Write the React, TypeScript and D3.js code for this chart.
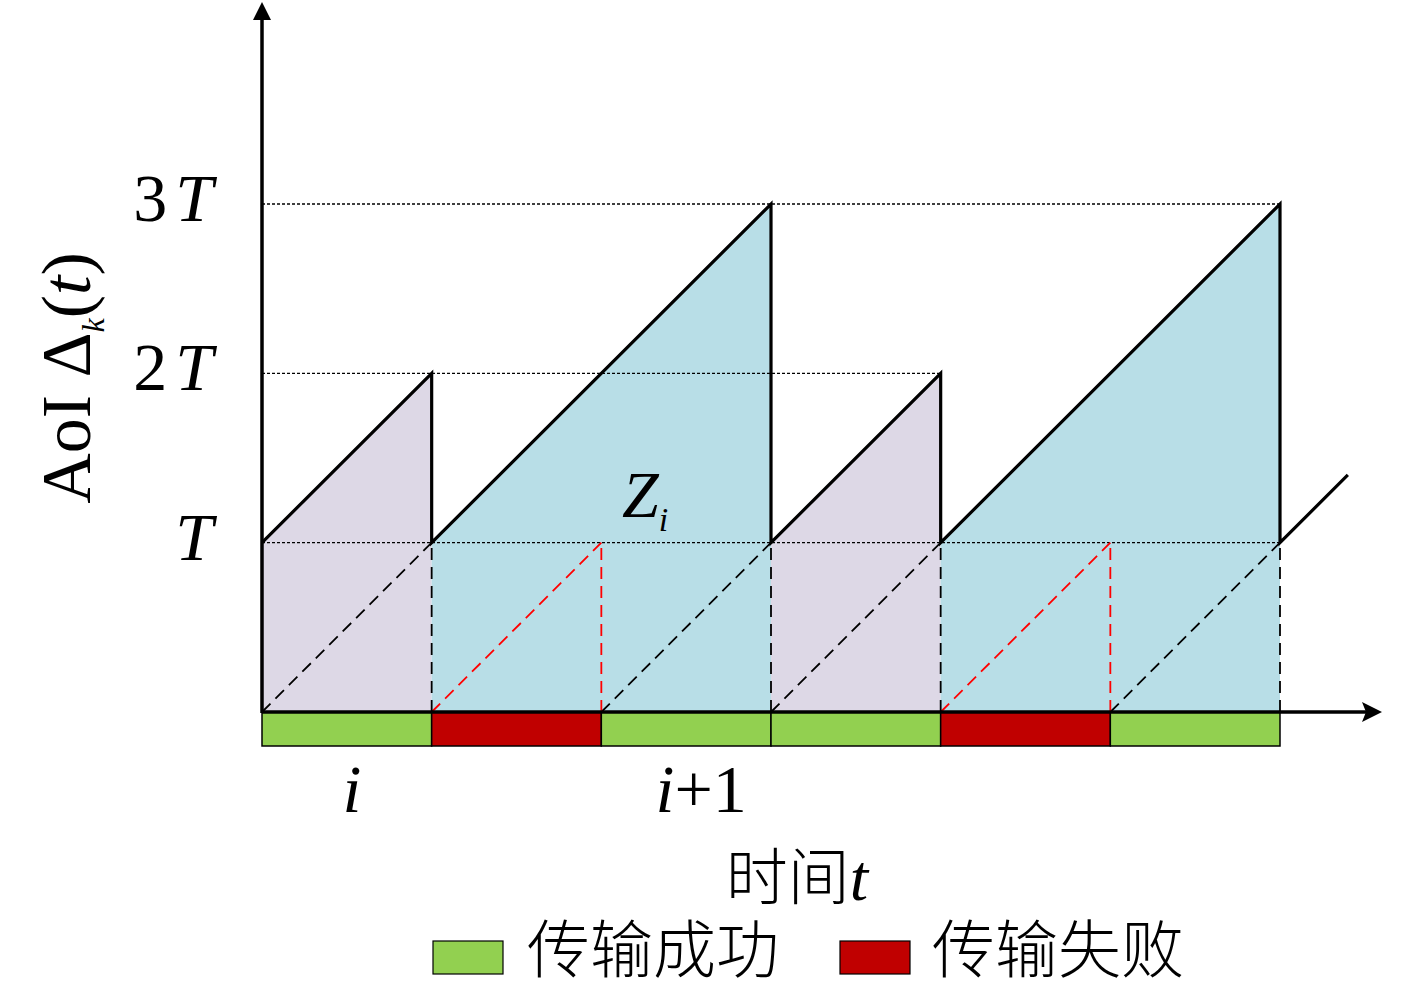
import React from 'react'
import * as d3 from 'd3'

// slot outcomes, one per time slot
const slotStatus = ['success', 'fail', 'success', 'success', 'fail', 'success']
// AoI sawtooth vertices (time in slots, value in T)
const aoiTime = [0, 1, 1, 3, 3, 4, 4, 6, 6, 6.4]
const aoiValue = [1, 2, 1, 3, 1, 2, 1, 3, 1, 1.4]
// shaded periods between successful updates
const periodStart = [0, 1, 3, 4]
const periodEnd = [1, 3, 4, 6]
const periodKind = ['short', 'long', 'short', 'long']
// y ticks
const yTicks = [1, 2, 3]
const yTickLabels = ['', '2', '3']
const yGridEnd = [6, 4, 6]
// x labels
const xLabelSlot = [0, 2]
const xLabelText = ['i', 'i+1']

const W = 1417
const H = 992
const SERIF = '"Liberation Serif", "DejaVu Serif", serif'
const CJK = '"Noto Sans CJK SC", sans-serif'

export default function App() {
  const x = d3.scaleLinear().domain([0, 6]).range([262, 1280])
  const y = d3.scaleLinear().domain([0, 3]).range([712, 204])

  const aoiPts: [number, number][] = aoiTime.map((t, i) => [x(t), y(aoiValue[i])])
  const line = d3.line()

  const periodArea = (s: number, e: number) => {
    const pts: [number, number][] = [[s, 0], [s, 1], [e, 1 + (e - s)], [e, 0]]
    return line(pts.map(([t, v]) => [x(t), y(v)]))! + 'Z'
  }

  // dashed ramps inside each slot: ages of the packet being sent
  const ramps = slotStatus.map((st, k) => ({
    d: line([[x(k), y(0)], [x(k + 1), y(1)]])!,
    color: st === 'fail' ? '#ff0000' : '#000',
  }))
  // dashed verticals at slot ends
  const verticals = slotStatus.map((st, k) => ({
    x: x(k + 1),
    color: st === 'fail' ? '#ff0000' : '#000',
  }))

  const y0 = y(0)

  return (
    <svg width={W} height={H} style={{ position: 'absolute', left: 0, top: 0, background: '#fff' }}>
      {/* shaded periods */}
      {periodStart.map((s, i) => (
        <path key={'p' + i} d={periodArea(s, periodEnd[i])}
          fill={periodKind[i] === 'short' ? '#ddd8e6' : '#b8dee7'} />
      ))}

      {/* dotted reference lines */}
      {yTicks.map((v, i) => (
        <line key={'g' + i} x1={x(0)} x2={x(yGridEnd[i])} y1={y(v)} y2={y(v)}
          stroke="#000" strokeWidth={1.3} strokeDasharray="3,2" />
      ))}

      {/* dashed ramps */}
      {ramps.map((r, i) => (
        <path key={'r' + i} d={r.d} stroke={r.color} strokeWidth={1.8} strokeDasharray="12,7" fill="none" />
      ))}
      {verticals.map((v, i) => (
        <line key={'v' + i} x1={v.x} x2={v.x} y1={y0} y2={y(1)}
          stroke={v.color} strokeWidth={1.8} strokeDasharray="12,7" />
      ))}

      {/* AoI sawtooth */}
      <path d={line(aoiPts)!} fill="none" stroke="#000" strokeWidth={3.2} />

      {/* slot bars */}
      {slotStatus.map((st, k) => (
        <rect key={'s' + k} x={x(k)} y={y0} width={x(k + 1) - x(k)} height={34}
          fill={st === 'fail' ? '#c00000' : '#92d050'} stroke="#000" strokeWidth={1.5} />
      ))}

      {/* axes */}
      <line x1={x(0)} x2={x(0)} y1={y0 + 1} y2={20} stroke="#000" strokeWidth={3.5} />
      <path d={`M${x(0)},2 L${x(0) - 9},20 L${x(0) + 9},20 Z`} fill="#000" />
      <line x1={x(0)} x2={1366} y1={y0} y2={y0} stroke="#000" strokeWidth={3.5} />
      <path d={`M1382,${y0} L1362,${y0 - 10} L1366,${y0} L1362,${y0 + 10} Z`} fill="#000" />

      {/* y tick labels */}
      {yTicks.map((v, i) => (
        <text key={'yl' + i} x={213} y={y(v) + 17} textAnchor="end" fontFamily={SERIF} fontSize={68}>
          <tspan>{yTickLabels[i]}</tspan>
          <tspan dx={yTickLabels[i] ? 8 : 0} fontStyle="italic">T</tspan>
        </text>
      ))}

      {/* y axis title */}
      <text transform="translate(90,378) rotate(-90)" textAnchor="middle" fontFamily={SERIF} fontSize={70}>
        <tspan>AoI Δ</tspan>
        <tspan fontStyle="italic" fontSize={32} dy={14}>k</tspan>
        <tspan dy={-14}>(</tspan>
        <tspan fontStyle="italic">t</tspan>
        <tspan>)</tspan>
      </text>

      {/* Z_i */}
      <text x={622} y={517} fontFamily={SERIF} fontSize={66} fontStyle="italic">
        Z<tspan fontSize={34} dy={14}>i</tspan>
      </text>

      {/* x labels */}
      {xLabelSlot.map((k, i) => (
        <text key={'xl' + i} x={x(k + 0.5) + (i === 0 ? 5 : 15)} y={812} textAnchor="middle"
          fontFamily={SERIF} fontSize={68}>
          <tspan fontStyle="italic">i</tspan>{xLabelText[i].slice(1)}
        </text>
      ))}

      {/* x axis title */}
      <text x={797} y={900} textAnchor="middle" fontSize={62}>
        <tspan fontFamily={CJK} fontWeight={300}>时间</tspan>
        <tspan fontFamily={SERIF} fontStyle="italic" fontSize={66}>t</tspan>
      </text>

      {/* legend */}
      <rect x={433} y={941} width={70} height={33} fill="#92d050" stroke="#000" strokeWidth={1.2} />
      <text x={527} y={972} fontFamily={CJK} fontWeight={300} fontSize={63}>传输成功</text>
      <rect x={840} y={941} width={70} height={33} fill="#c00000" stroke="#000" strokeWidth={1.2} />
      <text x={932} y={972} fontFamily={CJK} fontWeight={300} fontSize={63}>传输失败</text>
    </svg>
  )
}
